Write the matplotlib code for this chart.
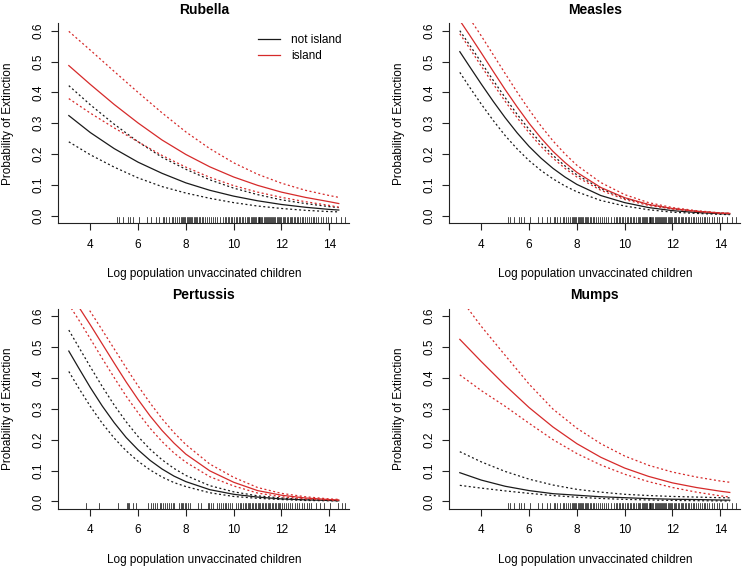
import matplotlib
matplotlib.use("Agg")
import matplotlib.pyplot as plt

plt.rcParams['font.family'] = ['Liberation Sans', 'DejaVu Sans']
plt.rcParams['font.size'] = 8.5

# x positions where the curves were read (log population of unvaccinated children)
x_pts = [3.1, 4, 5, 6, 7, 8, 9, 10, 11, 12, 13, 14, 14.4]
x_fine = [3.1, 3.5, 4, 4.5, 5, 5.5, 6, 6.5, 7, 7.5, 8, 9, 10, 11, 12, 13, 14, 14.4]

# Rubella (read on x_pts)
rub_ni = [0.325, 0.270, 0.218, 0.174, 0.138, 0.107, 0.083, 0.064, 0.049, 0.037, 0.028, 0.021, 0.019]
rub_ni_hi = [0.422, 0.360, 0.297, 0.240, 0.190, 0.151, 0.117, 0.090, 0.069, 0.052, 0.040, 0.030, 0.027]
rub_ni_lo = [0.240, 0.198, 0.158, 0.123, 0.095, 0.074, 0.057, 0.043, 0.032, 0.024, 0.018, 0.014, 0.013]
rub_is = [0.487, 0.426, 0.361, 0.301, 0.246, 0.199, 0.159, 0.126, 0.099, 0.077, 0.060, 0.046, 0.040]
rub_is_hi = [0.598, 0.537, 0.468, 0.400, 0.334, 0.272, 0.218, 0.172, 0.135, 0.106, 0.083, 0.066, 0.060]
rub_is_lo = [0.380, 0.333, 0.285, 0.240, 0.196, 0.158, 0.125, 0.098, 0.077, 0.060, 0.046, 0.034, 0.028]

# Measles (read on x_fine)
mea_ni = [0.532, 0.485, 0.427, 0.371, 0.318, 0.269, 0.225, 0.187, 0.154, 0.126, 0.102, 0.066,
          0.043, 0.027, 0.017, 0.011, 0.007, 0.006]
mea_ni_hi = [0.600, 0.555, 0.497, 0.439, 0.383, 0.329, 0.280, 0.236, 0.196, 0.162, 0.133, 0.088,
             0.057, 0.037, 0.023, 0.015, 0.009, 0.008]
mea_ni_lo = [0.465, 0.418, 0.362, 0.309, 0.260, 0.217, 0.179, 0.147, 0.120, 0.097, 0.078, 0.050,
             0.032, 0.020, 0.012, 0.008, 0.005, 0.004]
mea_is = [0.633, 0.587, 0.528, 0.468, 0.409, 0.353, 0.300, 0.252, 0.209, 0.173, 0.141, 0.092,
          0.059, 0.037, 0.024, 0.015, 0.009, 0.008]
mea_is_hi = [0.685, 0.641, 0.583, 0.522, 0.461, 0.401, 0.344, 0.291, 0.243, 0.201, 0.164, 0.108,
             0.069, 0.043, 0.027, 0.017, 0.010, 0.009]
mea_is_lo = [0.590, 0.544, 0.485, 0.427, 0.371, 0.318, 0.269, 0.225, 0.187, 0.154, 0.126, 0.083,
             0.053, 0.034, 0.022, 0.014, 0.009, 0.007]

# Pertussis (read on x_fine)
per_ni = [0.487, 0.434, 0.369, 0.309, 0.255, 0.207, 0.167, 0.133, 0.105, 0.082, 0.064, 0.038,
          0.023, 0.014, 0.008, 0.005, 0.003, 0.002]
per_ni_hi = [0.555, 0.502, 0.436, 0.372, 0.312, 0.258, 0.210, 0.169, 0.135, 0.107, 0.084, 0.051,
             0.031, 0.018, 0.011, 0.006, 0.004, 0.003]
per_ni_lo = [0.421, 0.369, 0.308, 0.253, 0.205, 0.164, 0.130, 0.102, 0.079, 0.061, 0.048, 0.028,
             0.016, 0.010, 0.006, 0.003, 0.002, 0.0015]
per_is = [0.677, 0.632, 0.572, 0.510, 0.448, 0.387, 0.330, 0.277, 0.230, 0.189, 0.153, 0.099,
          0.062, 0.035, 0.020, 0.011, 0.006, 0.0047]
per_is_hi = [0.713, 0.671, 0.615, 0.555, 0.494, 0.433, 0.374, 0.319, 0.268, 0.223, 0.184, 0.121,
             0.078, 0.045, 0.026, 0.015, 0.008, 0.0065]
per_is_lo = [0.638, 0.590, 0.527, 0.463, 0.401, 0.341, 0.287, 0.237, 0.194, 0.157, 0.127, 0.080,
             0.050, 0.027, 0.015, 0.008, 0.0044, 0.0034]

# Mumps (read on x_pts)
mum_ni = [0.093, 0.069, 0.049, 0.035, 0.025, 0.020, 0.015, 0.012, 0.009, 0.007, 0.006, 0.0045, 0.004]
mum_ni_hi = [0.161, 0.128, 0.097, 0.072, 0.053, 0.039, 0.030, 0.023, 0.019, 0.016, 0.014, 0.012, 0.0115]
mum_ni_lo = [0.052, 0.043, 0.034, 0.026, 0.019, 0.0135, 0.0095, 0.0066, 0.0046, 0.0032, 0.0022, 0.0015, 0.0013]
mum_is = [0.525, 0.453, 0.376, 0.304, 0.241, 0.187, 0.143, 0.108, 0.081, 0.060, 0.045, 0.033, 0.029]
mum_is_hi = [0.660, 0.567, 0.473, 0.380, 0.299, 0.237, 0.187, 0.147, 0.117, 0.095, 0.079, 0.066, 0.062]
mum_is_lo = [0.410, 0.359, 0.308, 0.253, 0.200, 0.155, 0.118, 0.088, 0.064, 0.045, 0.030, 0.018, 0.014]

# rug of observed values
rug_common = [5.10, 5.21, 5.35, 5.56, 5.66, 5.80, 6.05, 6.36, 6.54, 6.75, 6.89, 7.03, 7.10, 7.17,
              7.31, 7.40, 7.45, 7.55, 7.62, 7.70, 7.78, 7.85, 7.90, 7.94, 7.98, 8.03, 8.07, 8.12,
              8.18, 8.22, 8.27, 8.33, 8.38, 8.42, 8.47, 8.55, 8.61, 8.66, 8.72, 8.80, 8.88, 8.95,
              9.05, 9.15, 9.22, 9.30, 9.42, 9.55, 9.62, 9.68, 9.75, 9.80, 9.88, 9.95, 10.02, 10.08,
              10.15, 10.22, 10.28, 10.35, 10.40, 10.47, 10.55, 10.60, 10.66, 10.72, 10.78, 10.82,
              10.86, 10.90, 10.95, 11.00, 11.04, 11.08, 11.12, 11.16, 11.20, 11.25, 11.30, 11.34,
              11.38, 11.43, 11.48, 11.52, 11.57, 11.62, 11.66, 11.70, 11.75, 11.80, 11.85, 11.90,
              11.95, 12.00, 12.05, 12.10, 12.16, 12.22, 12.28, 12.35, 12.40, 12.46, 12.52, 12.58,
              12.64, 12.70, 12.78, 12.85, 12.92, 13.00, 13.08, 13.15, 13.22, 13.30, 13.38, 13.45,
              13.55, 13.65, 13.75, 13.85, 13.94, 14.08, 14.29, 14.50, 14.68]
rug_pertussis = [3.80, 4.36, 5.14, 5.52, 5.58, 5.64, 5.78, 5.90, 6.43, 6.55, 6.62, 6.70, 6.80, 6.90,
                 6.97, 7.05, 7.12, 7.20, 7.28, 7.36, 7.45, 7.52, 7.72, 7.78, 7.84, 7.90, 7.96, 8.02,
                 8.10, 8.18, 8.49, 8.62, 8.92, 8.98, 9.05, 9.12, 9.32, 9.40, 9.48, 9.55, 9.62, 9.70,
                 9.78, 9.86, 9.95, 10.10, 10.18, 10.25, 10.32, 10.40, 10.46, 10.52, 10.58, 10.64,
                 10.70, 10.76, 10.82, 10.88, 10.94, 11.00, 11.06, 11.12, 11.18, 11.24, 11.30, 11.36,
                 11.42, 11.48, 11.54, 11.60, 11.66, 11.72, 11.78, 11.84, 11.90, 11.96, 12.02, 12.10,
                 12.20, 12.28, 12.36, 12.45, 12.55, 12.65, 12.75, 12.85, 12.95, 13.05, 13.15, 13.25,
                 13.45, 13.60, 13.80, 14.05, 14.35, 14.52, 14.68]

BLACK = '#1a1a1a'
RED = '#d62a2a'
DOT = (0, (1.6, 2.0))

fig = plt.figure(figsize=(7.44, 5.69), dpi=100)
W, H = 744, 569
axw, axh = 291 / W, 200 / H
positions = [(58.3 / W, 1 - 223.3 / H), (449.3 / W, 1 - 223.3 / H),
             (58.3 / W, 1 - 508.8 / H), (449.3 / W, 1 - 508.8 / H)]

panels = [
    ('Rubella', x_pts, rub_ni, rub_ni_hi, rub_ni_lo, rub_is, rub_is_hi, rub_is_lo, rug_common),
    ('Measles', x_fine, mea_ni, mea_ni_hi, mea_ni_lo, mea_is, mea_is_hi, mea_is_lo, rug_common),
    ('Pertussis', x_fine, per_ni, per_ni_hi, per_ni_lo, per_is, per_is_hi, per_is_lo, rug_pertussis),
    ('Mumps', x_pts, mum_ni, mum_ni_hi, mum_ni_lo, mum_is, mum_is_hi, mum_is_lo, rug_common),
]

for (left, bottom), (title, xs, ni, ni_hi, ni_lo, isl, is_hi, is_lo, rug) in zip(positions, panels):
    ax = fig.add_axes([left, bottom, axw, axh])
    ax.plot(xs, ni, color=BLACK, lw=0.9, label='not island')
    ax.plot(xs, ni_hi, color=BLACK, lw=0.9, ls=DOT)
    ax.plot(xs, ni_lo, color=BLACK, lw=0.9, ls=DOT)
    ax.plot(xs, isl, color=RED, lw=0.9, label='island')
    ax.plot(xs, is_hi, color=RED, lw=0.9, ls=DOT)
    ax.plot(xs, is_lo, color=RED, lw=0.9, ls=DOT)

    # rug along the bottom of the plot region
    for r in rug:
        ax.axvline(r, ymin=0, ymax=0.03, color='black', lw=0.5)

    ax.set_xlim(2.66, 14.84)
    ax.set_ylim(-0.024, 0.624)
    ax.set_xticks([4, 6, 8, 10, 12, 14])
    ax.set_yticks([0.0, 0.1, 0.2, 0.3, 0.4, 0.5, 0.6])
    ax.set_yticklabels(['0.0', '0.1', '0.2', '0.3', '0.4', '0.5', '0.6'])
    for s in ['top', 'right']:
        ax.spines[s].set_visible(False)
    for s in ['left', 'bottom']:
        ax.spines[s].set_linewidth(0.8)
        ax.spines[s].set_color('#222222')
    ax.tick_params(axis='both', length=4.8, width=0.8, color='#222222')
    ax.tick_params(axis='x', pad=6.5)
    ax.tick_params(axis='y', pad=5.0, labelrotation=90)
    for lab in ax.get_yticklabels():
        lab.set_va('center')

    ax.set_title(title, fontsize=10, fontweight='bold', pad=7)
    ax.set_xlabel('Log population unvaccinated children')
    ax.xaxis.label.set_va('center')
    ax.xaxis.set_label_coords(0.5, -0.2535)
    ax.set_ylabel('Probability of Extinction')
    ax.yaxis.label.set_va('center')
    ax.yaxis.set_label_coords(-0.172, 0.5)

    if title == 'Rubella':
        ax.legend(loc='upper right', bbox_to_anchor=(0.995, 0.975), frameon=False,
                  borderpad=0, handlelength=1.85, handletextpad=0.95, labelspacing=0.3)

fig.savefig('out.png', dpi=100)
